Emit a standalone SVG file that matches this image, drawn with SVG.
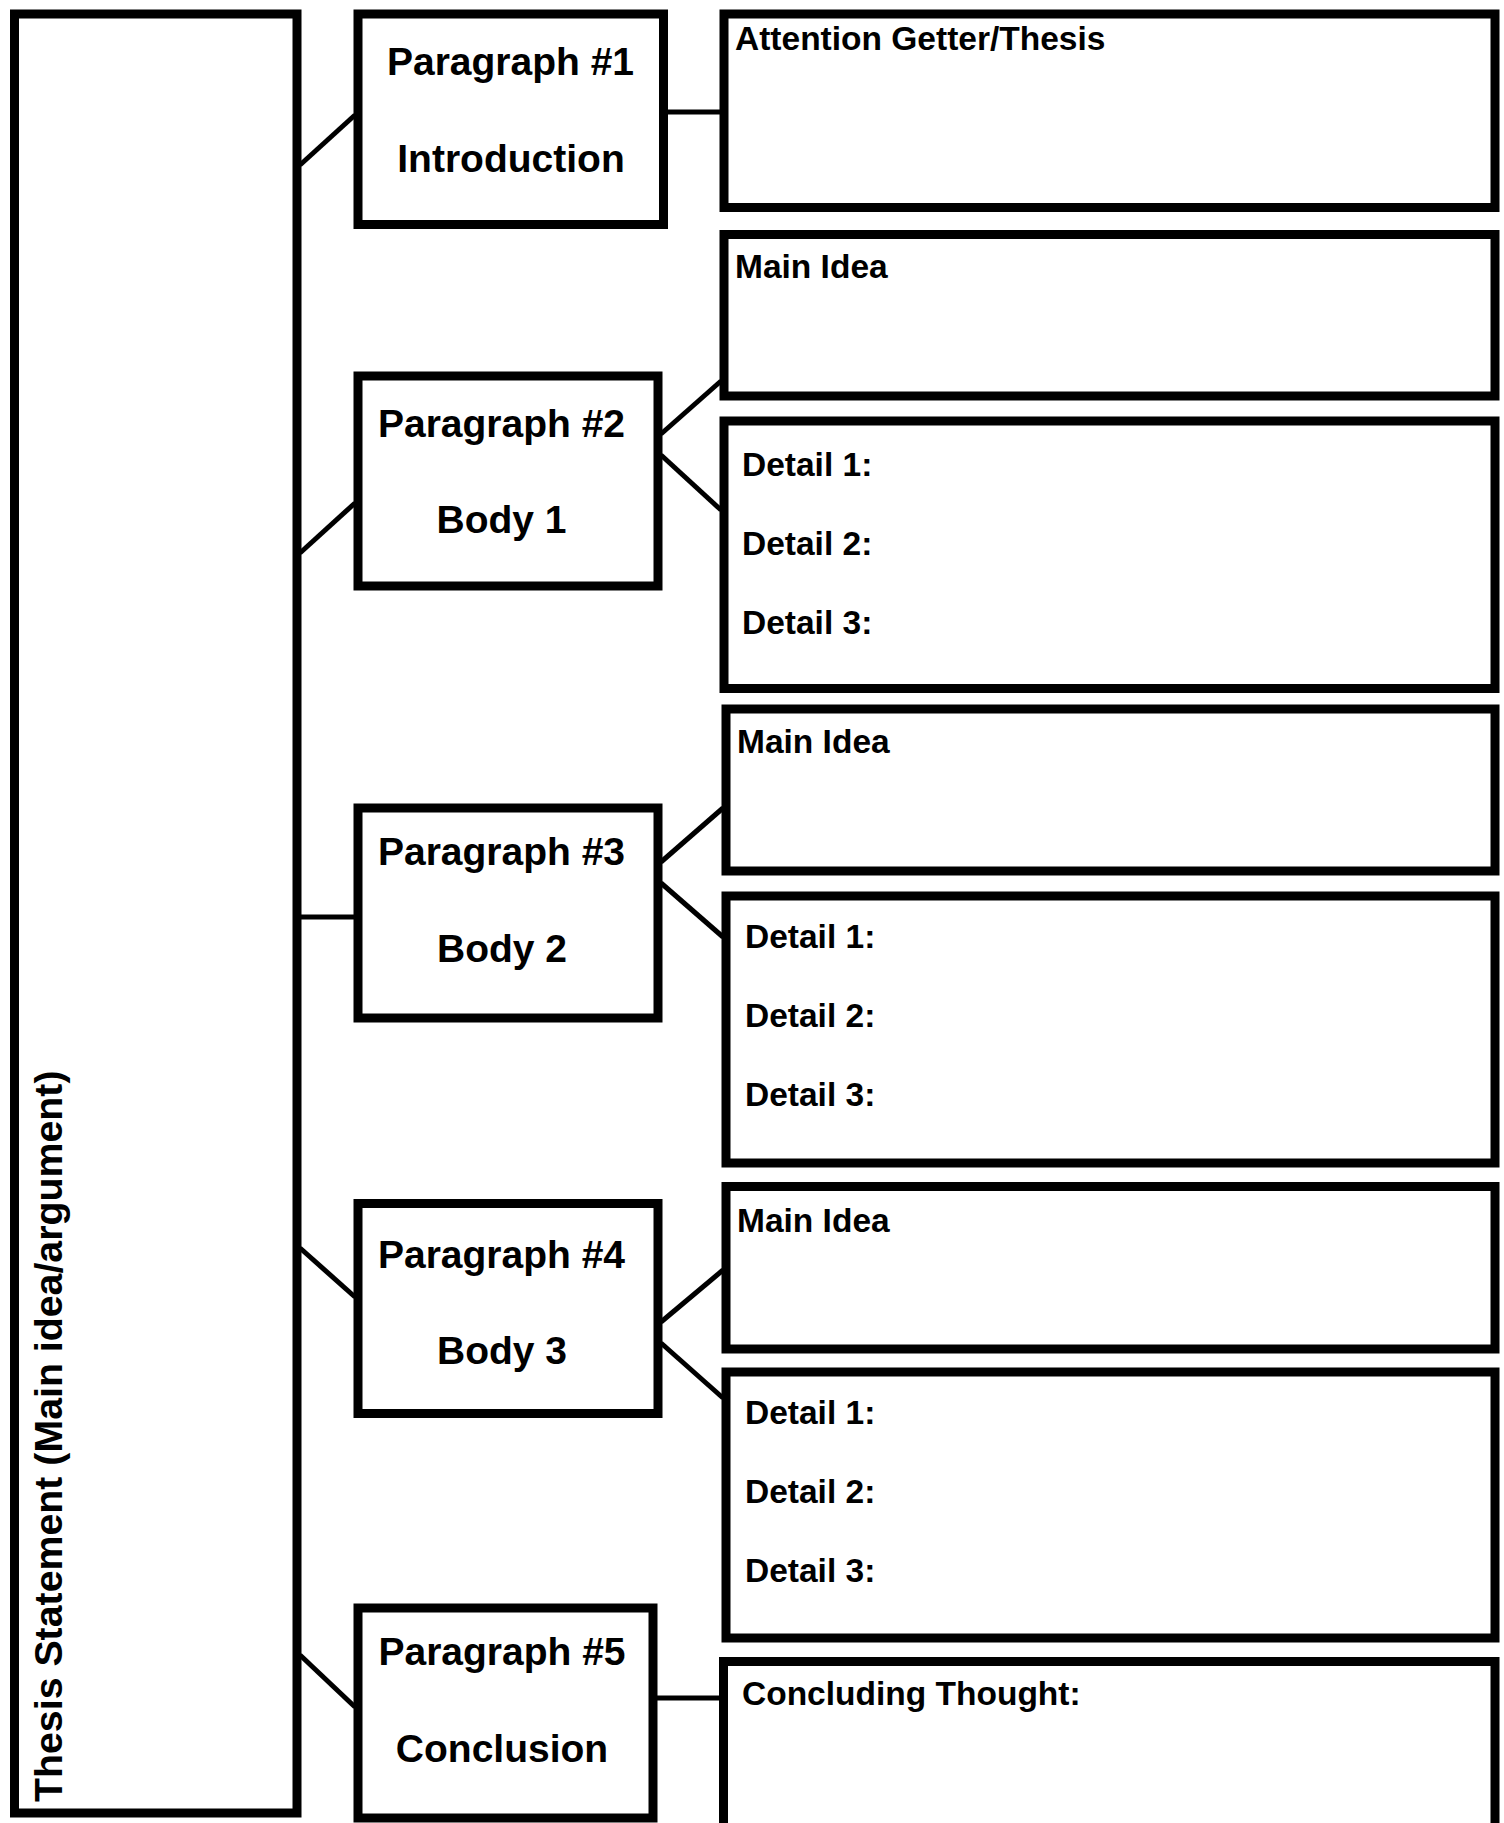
<svg xmlns="http://www.w3.org/2000/svg" width="1504" height="1823" viewBox="0 0 1504 1823">
<style>
  .box { fill: #ffffff; stroke: #000000; stroke-width: 9; }
  .conn line { stroke: #000000; stroke-width: 5; stroke-linecap: butt; }
  .ptitle { font-family: "Liberation Sans", Arial, Helvetica, sans-serif; font-weight: bold; font-size: 39px; fill: #000000; text-anchor: middle; }
  .lbl { font-family: "Liberation Sans", Arial, Helvetica, sans-serif; font-weight: bold; font-size: 33.5px; fill: #000000; }
  .thesis { font-family: "Liberation Sans", Arial, Helvetica, sans-serif; font-weight: bold; font-size: 39.3px; fill: #000000; }
</style>
<rect x="0" y="0" width="1504" height="1823" fill="#ffffff"/>

<g id="connectors" class="conn">
  <line x1="300" y1="165" x2="355" y2="115"/>
  <line x1="666" y1="112" x2="721" y2="112"/>
  <line x1="300" y1="553" x2="355" y2="503"/>
  <line x1="661" y1="434" x2="721" y2="381"/>
  <line x1="661" y1="455" x2="721" y2="510"/>
  <line x1="300" y1="917" x2="355" y2="917"/>
  <line x1="661" y1="862" x2="723" y2="808"/>
  <line x1="661" y1="883" x2="723" y2="937"/>
  <line x1="300" y1="1248" x2="355" y2="1297"/>
  <line x1="661" y1="1322" x2="723" y2="1270"/>
  <line x1="661" y1="1343" x2="723" y2="1398"/>
  <line x1="300" y1="1655" x2="355" y2="1707"/>
  <line x1="655" y1="1698" x2="720" y2="1698"/>
</g>

<g id="thesis">
  <rect class="box" x="14.5" y="14" width="282.5" height="1799"/>
  <text class="thesis" transform="translate(62,1802) rotate(-90)" x="0" y="0">Thesis Statement (Main idea/argument)</text>
</g>

<g id="para1">
  <rect class="box" x="358" y="14" width="305.5" height="210.5"/>
  <text class="ptitle" x="510.5" y="75">Paragraph #1</text>
  <text class="ptitle" x="511" y="172">Introduction</text>
</g>
<g id="para2">
  <rect class="box" x="358" y="376" width="300" height="210"/>
  <text class="ptitle" x="501.5" y="437">Paragraph #2</text>
  <text class="ptitle" x="501.5" y="533">Body 1</text>
</g>
<g id="para3">
  <rect class="box" x="358" y="808" width="300" height="210"/>
  <text class="ptitle" x="501.5" y="865">Paragraph #3</text>
  <text class="ptitle" x="502" y="962">Body 2</text>
</g>
<g id="para4">
  <rect class="box" x="358" y="1203.5" width="300" height="210"/>
  <text class="ptitle" x="501.5" y="1268">Paragraph #4</text>
  <text class="ptitle" x="502" y="1364">Body 3</text>
</g>
<g id="para5">
  <rect class="box" x="358" y="1608" width="295" height="210"/>
  <text class="ptitle" x="502" y="1665">Paragraph #5</text>
  <text class="ptitle" x="502" y="1762">Conclusion</text>
</g>

<g id="attention">
  <rect class="box" x="724" y="14" width="771" height="193.5"/>
  <text class="lbl" x="735" y="50">Attention Getter/Thesis</text>
</g>
<g id="main1">
  <rect class="box" x="724" y="234.5" width="771" height="161.5"/>
  <text class="lbl" x="735" y="278">Main Idea</text>
</g>
<g id="details1">
  <rect class="box" x="724" y="421" width="771" height="267.5"/>
  <text class="lbl" x="742" y="476">Detail 1:</text>
  <text class="lbl" x="742" y="555">Detail 2:</text>
  <text class="lbl" x="742" y="634">Detail 3:</text>
</g>
<g id="main2">
  <rect class="box" x="726" y="709" width="769" height="162"/>
  <text class="lbl" x="737" y="753">Main Idea</text>
</g>
<g id="details2">
  <rect class="box" x="726" y="896" width="769" height="267"/>
  <text class="lbl" x="745" y="948">Detail 1:</text>
  <text class="lbl" x="745" y="1027">Detail 2:</text>
  <text class="lbl" x="745" y="1106">Detail 3:</text>
</g>
<g id="main3">
  <rect class="box" x="726" y="1186.5" width="769" height="162.5"/>
  <text class="lbl" x="737" y="1232">Main Idea</text>
</g>
<g id="details3">
  <rect class="box" x="726" y="1372" width="769" height="266"/>
  <text class="lbl" x="745" y="1424">Detail 1:</text>
  <text class="lbl" x="745" y="1503">Detail 2:</text>
  <text class="lbl" x="745" y="1582">Detail 3:</text>
</g>
<g id="concluding">
  <rect class="box" x="723.5" y="1661.5" width="771.5" height="200"/>
  <text class="lbl" x="742" y="1705">Concluding Thought:</text>
</g>
</svg>
